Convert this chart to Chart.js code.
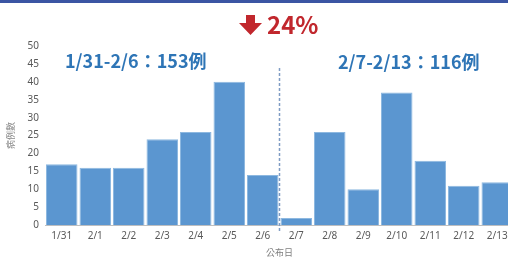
<!DOCTYPE html>
<html>
<head>
<meta charset="utf-8">
<script src="https://cdn.jsdelivr.net/npm/chart.js@4.4.0/dist/chart.umd.min.js"></script>
<style>
  html, body { margin: 0; padding: 0; background: #fff; overflow: hidden; }
  #topBar { position: absolute; left: 0; top: 0; width: 508px; height: 3px; background: #3b55a3; }
  #wrap { position: absolute; left: 0; top: 0; width: 516px; height: 258px; }
</style>
</head>
<body>
<div id="wrap"><canvas id="caseChart" width="516" height="258"></canvas></div>
<div id="topBar"></div>
<script>
const days = ['1/31', '2/1', '2/2', '2/3', '2/4', '2/5', '2/6', '2/7', '2/8', '2/9', '2/10', '2/11', '2/12', '2/13'];
const cases = [17, 16, 16, 24, 26, 40, 14, 2, 26, 10, 37, 18, 11, 12];
const yTicks = [0, 5, 10, 15, 20, 25, 30, 35, 40, 45, 50];
const weekLabels = ['1/31-2/6：153例', '2/7-2/13：116例'];
const changeLabel = '24%';

const cjk = '"Noto Sans CJK TC", "Noto Sans", sans-serif';

// dashed divider between the two weeks + the headline texts
const notes = {
    id: 'notes',
    afterDraw(chart) {
        const ctx = chart.ctx;
        const x = chart.scales.x;
        const sep = (x.getPixelForValue(6) + x.getPixelForValue(7)) / 2;

        ctx.save();
        ctx.strokeStyle = '#7f9cc4';
        ctx.lineWidth = 1.5;
        ctx.setLineDash([3, 2]);
        ctx.beginPath();
        ctx.moveTo(sep, 68);
        ctx.lineTo(sep, 232);
        ctx.stroke();
        ctx.setLineDash([]);

        ctx.fillStyle = '#2e75b6';
        ctx.font = 'bold 18px ' + cjk;
        ctx.textBaseline = 'middle';
        ctx.fillText(weekLabels[0], 65, 61);
        ctx.fillText(weekLabels[1], 338, 62);

        // red down arrow
        ctx.fillStyle = '#c1272d';
        ctx.beginPath();
        ctx.moveTo(246, 15);
        ctx.lineTo(255, 15);
        ctx.lineTo(255, 23);
        ctx.lineTo(262, 23);
        ctx.lineTo(250.5, 35);
        ctx.lineTo(239, 23);
        ctx.lineTo(246, 23);
        ctx.closePath();
        ctx.fill();
        ctx.font = 'bold 24px ' + cjk;
        ctx.fillText(changeLabel, 267, 25);
        ctx.restore();
    }
};

new Chart(document.getElementById('caseChart'), {
    type: 'bar',
    data: {
        labels: days,
        datasets: [{
            data: cases,
            backgroundColor: '#5b96d0',
            borderColor: '#8db8e0',
            borderWidth: 1,
            barPercentage: 0.94,
            categoryPercentage: 1.0
        }]
    },
    options: {
        responsive: false,
        animation: false,
        layout: { padding: { top: 46, right: 2, left: 5, bottom: 0 } },
        plugins: { legend: { display: false }, tooltip: { enabled: false } },
        scales: {
            x: {
                grid: { display: false, drawTicks: false },
                border: { color: '#bfbfbf' },
                ticks: { color: '#595959', font: { family: 'Noto Sans', size: 10 }, padding: 5, maxRotation: 0, autoSkip: false },
                title: { display: true, text: '公布日', color: '#7f7f7f', font: { family: cjk, size: 9 }, padding: { top: 0, bottom: 0 } }
            },
            y: {
                min: 0,
                max: 50,
                afterBuildTicks(scale) { scale.ticks = yTicks.map(v => ({ value: v })); },
                afterFit(scale) { scale.width = 40; },
                grid: { display: false, drawTicks: false },
                border: { display: false },
                ticks: { color: '#595959', font: { family: 'Noto Sans', size: 10 }, padding: 6 },
                title: { display: true, text: '病例數', color: '#8a8a8a', font: { family: cjk, size: 9 }, padding: 0 }
            }
        }
    },
    plugins: [notes]
});
</script>
</body>
</html>
